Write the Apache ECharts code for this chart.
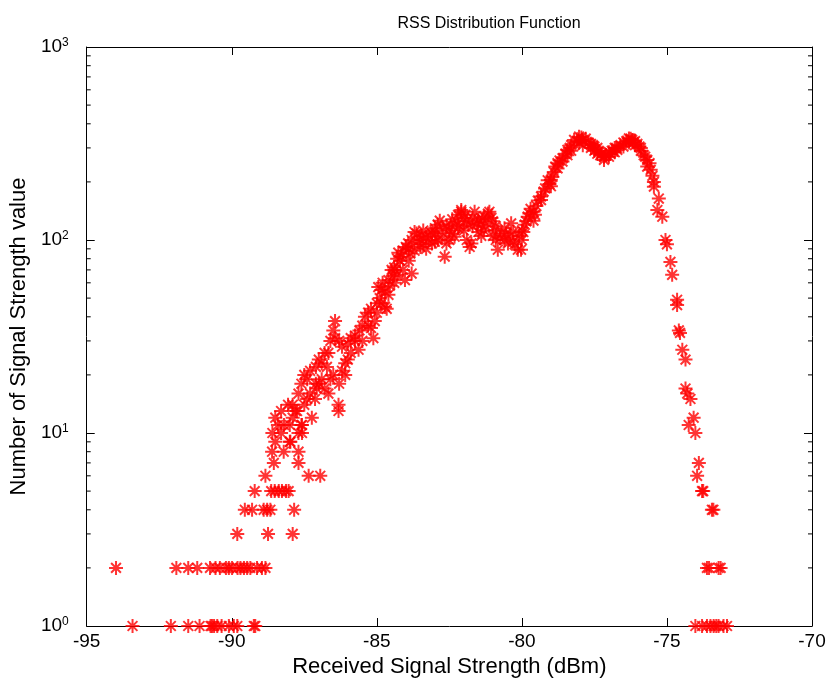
<!DOCTYPE html>
<html>
<head>
<meta charset="utf-8">
<script src="https://cdn.jsdelivr.net/npm/echarts@6/dist/echarts.min.js"></script>
<style>
html,body{margin:0;padding:0;background:#fff;}
#chart{width:832px;height:685px;}
</style>
</head>
<body>
<div id="chart"></div>
<script>
// ---- data ----
const titleText = 'RSS Distribution Function';
const xName = 'Received Signal Strength (dBm)';
const yName = 'Number of Signal Strength value';
const xTicks = [-95, -90, -85, -80, -75, -70];
const yTicks = [1, 10, 100, 1000];
const yMinorTicks = [2,3,4,5,6,7,8,9,20,30,40,50,60,70,80,90,200,300,400,500,600,700,800,900];

// low tail, left side
const leftTailX = [-93.42,-92.10,-91.50,-91.11,-90.73,-90.68,-90.61,-90.50,-90.35,-90.10,-89.93,-89.81,-89.24,-89.19,
                   -93.99,-91.91,-91.50,-91.19,-90.75,-90.56,-90.41,-90.20,-90.10,-89.99,-89.80,-89.70,-89.58,-89.47,-89.36,-89.13,-88.96,-88.84,
                   -89.81,-88.75,-87.90,
                   -89.55,-89.30,-88.90,-88.78,-88.67,-87.85,
                   -89.21,-88.64,-88.52,-88.38,-88.27,-88.13,-88.04,
                   -88.84,-87.35,-86.95,
                   -88.55,-87.70,
                   -88.61,-88.21,-87.70];
const leftTailY = [1,1,1,1,1,1,1,1,1,1,1,1,1,1,
                   2,2,2,2,2,2,2,2,2,2,2,2,2,2,2,2,2,2,
                   3,3,3,
                   4,4,4,4,4,4,
                   5,5,5,5,5,5,5,
                   6,6,6,
                   7,7,
                   8,8,8];

// main band
const bandX = [-88.60,-88.50,-88.50,-88.41,-88.30,-88.30,-88.20,-88.06,-88.00,-88.00,-87.98,-87.90,-87.90,-87.80,-87.75,-87.70,-87.70,
  -87.60,-87.60,-87.58,-87.58,-87.50,-87.50,-87.40,-87.40,-87.30,-87.30,-87.24,-87.13,-87.10,-87.10,-87.07,-87.00,-87.00,
  -86.90,-86.90,-86.80,-86.80,-86.72,-86.67,-86.67,-86.60,-86.60,-86.50,-86.50,-86.44,-86.44,-86.32,-86.32,-86.30,-86.30,
  -86.20,-86.20,-86.09,-86.09,-86.00,-86.00,-85.90,-85.90,-85.75,-85.75,-85.63,-85.60,-85.50,-85.50,-85.41,-85.30,-85.30,
  -85.20,-85.20,-85.12,-85.07,-85.00,-85.00,-84.95,-84.90,-84.84,-84.84,-84.80,-84.72,-84.72,-84.66,-84.60,-84.60,-84.55,-84.49,-84.45,-84.40,-84.40,
  -84.38,-84.30,-84.30,-84.26,-84.20,-84.15,-84.10,-84.10,-84.03,-84.00,-83.92,-83.90,-83.90,-83.85,-83.80,-83.80,-83.70,-83.70,-83.63,-83.60,
  -83.50,-83.50,-83.45,-83.40,-83.40,-83.30,-83.30,-83.23,-83.15,-83.10,-83.10,-83.00,-83.00,-82.95,-82.90,-82.90,-82.83,-82.75,-82.70,-82.66,
  -82.60,-82.60,-82.50,-82.50,-82.45,-82.40,-82.40,-82.32,-82.25,-82.20,-82.20,-82.15,-82.09,-82.09,-82.00,-82.00,-81.95,-81.90,-81.90,-81.85,-81.80,-81.74,
  -81.70,-81.70,-81.63,-81.55,-81.50,-81.50,-81.40,-81.40,-81.35,-81.30,-81.30,-81.25,-81.17,-81.12,-81.05,-81.00,-81.00,-80.95,-80.90,-80.90,-80.83,-80.75,-80.71,
  -80.60,-80.60,-80.55,-80.48,-80.40,-80.37,-80.30,-80.30,-80.25,-80.14,-80.10,-80.03,-80.00,-80.00,-79.95,-79.90,-79.85,-79.80,-79.74,-79.70,-79.60,-79.60,-79.55,-79.50,-79.45,
  -79.34,-79.34,-79.25,-79.20,-79.11,-79.05,-79.00,-79.00,-78.95,-78.90,-78.85,-78.77,-78.77,-78.70,-78.60,-78.60,-78.50,-78.43,-78.43,-78.35,-78.30,-78.30,-78.20,-78.10,
  -78.03,-78.03,-77.95,-77.90,-77.90,-77.80,-77.70,-77.62,-77.62,-77.55,-77.50,-77.50,-77.40,-77.40,-77.35,-77.30,-77.25,-77.17,-77.17,-77.10,-77.00,-77.00,-76.95,
  -76.90,-76.80,-76.80,-76.75,-76.71,-76.60,-76.50,-76.50,-76.40,-76.31,-76.31,-76.25,-76.20,-76.15,-76.10,-76.10,-76.02,-75.95,-75.90,-75.90,-75.80,-75.75,
  -75.68,-75.68,-75.60,-75.56,-75.50,-75.45,-75.45,-75.33,-75.28,-75.16,-75.05,-75.00,-74.88,-74.82,-74.65,-74.65,-74.59,-74.55,
  -74.47,-74.36,-74.36,-74.30,-74.25,-74.19,-74.08,-74.02,-73.96,-73.90,-73.79,-73.75,-73.45,-73.40];
const bandY = [10,9,12,11,13,10,11,14,11,9,9,12,14,13,13,16,10,
  18,11,10,11,20,14,19,15,21,16,12,15,22,18,17,24,18,
  23,19,26,17,22,26,16,30,19,34,20,38,31,14,13,30,18,
  28,21,23,20,29,24,31,26,30,32,27,34,36,30,40,42,36,
  44,35,31,38,47,42,57,50,55,47,60,54,45,44,62,52,58,70,65,72,60,
  70,80,66,86,78,82,88,70,62,92,96,90,78,85,100,67,110,88,108,98,
  100,92,105,112,95,104,90,100,110,108,96,115,98,108,120,100,126,105,115,82,
  118,96,112,100,120,128,108,104,125,135,115,118,140,143,130,112,135,125,100,120,92,96,
  130,118,140,122,128,110,120,105,128,132,112,118,137,140,130,125,105,112,118,100,89,102,108,
  115,100,108,96,105,122,110,98,95,89,105,89,100,112,110,120,125,132,137,145,140,126,135,150,160,
  168,161,178,185,204,195,205,190,212,225,240,250,235,258,265,255,280,293,275,300,310,290,330,325,
  343,320,340,330,310,335,320,315,300,310,305,290,280,300,290,275,280,270,260,275,285,270,280,
  290,300,285,300,293,310,320,305,325,336,320,335,330,320,310,325,315,305,290,300,275,270,
  260,240,250,231,215,189,200,143,164,132,100,95,77,66,49,46,34,33,
  27,24,17,16,11,15,12,10,6,7,5,5,4,4];

// low tail, right side
const rightTailX = [-73.62,-73.55,-73.22,-73.15,
                    -74.02,-73.79,-73.62,-73.50,-73.39,-73.30,-73.22,-73.05,-72.93];
const rightTailY = [2,2,2,2,
                    1,1,1,1,1,1,1,1,1];

// ---- chart ----
const FONT = '"Liberation Sans Narrow", "Liberation Sans", Arial, sans-serif';
const RED = '#ff0000';
const starPath = 'path://M0,-6L0,6M-6,0L6,0M-4.2,-4.2L4.2,4.2M-4.2,4.2L4.2,-4.2';

function pairs(xs, ys) { return xs.map((x, i) => [x, ys[i]]); }
const allPoints = pairs(leftTailX, leftTailY).concat(pairs(bandX, bandY), pairs(rightTailX, rightTailY));

const chart = echarts.init(document.getElementById('chart'), null, {renderer: 'canvas'});
const axisLine = {show: true, onZero: false, lineStyle: {color: '#000', width: 1}};
const tickIn = {show: true, inside: true, length: 8, lineStyle: {color: '#000', width: 1}};
const grid = {left: 84, right: 20, top: 47, bottom: 59};

chart.setOption({
  animation: false,
  backgroundColor: '#fff',
  title: {
    text: titleText, left: 484, top: 11, textAlign: 'center',
    textStyle: {fontFamily: FONT, fontSize: 16, fontWeight: 'normal', color: '#000'}
  },
  grid: grid,
  xAxis: [{
    type: 'value', min: xTicks[0], max: xTicks[xTicks.length - 1], interval: 5,
    position: 'bottom',
    name: xName, nameLocation: 'middle', nameGap: 28,
    nameTextStyle: {fontFamily: FONT, fontSize: 22, color: '#000'},
    axisLine: axisLine, axisTick: tickIn, splitLine: {show: false},
    axisLabel: {fontFamily: FONT, fontSize: 19, color: '#000', margin: 6}
  }, {
    type: 'value', min: xTicks[0], max: xTicks[xTicks.length - 1], interval: 5,
    position: 'top', axisLine: axisLine, axisTick: tickIn, splitLine: {show: false},
    axisLabel: {show: false}
  }],
  yAxis: [{
    type: 'log', logBase: 10, min: yTicks[0], max: yTicks[yTicks.length - 1],
    position: 'left',
    name: yName, nameLocation: 'middle', nameGap: 50, nameRotate: 90,
    nameTextStyle: {fontFamily: FONT, fontSize: 22, color: '#000'},
    axisLine: axisLine, axisTick: tickIn, splitLine: {show: false}, minorTick: {show: false},
    axisLabel: {
      margin: 18, color: '#000',
      formatter: function (v) { return '{b|10}{s|' + Math.round(Math.log10(v)) + '}'; },
      rich: {
        b: {fontFamily: FONT, fontSize: 19, color: '#000', lineHeight: 20},
        s: {fontFamily: FONT, fontSize: 12, color: '#000', verticalAlign: 'top', lineHeight: 20, padding: [0, 0, 14, 0]}
      }
    }
  }, {
    type: 'log', logBase: 10, min: yTicks[0], max: yTicks[yTicks.length - 1],
    position: 'right', axisLine: axisLine, axisTick: tickIn, splitLine: {show: false},
    axisLabel: {show: false}
  }],
  series: [{
    type: 'scatter',
    data: allPoints,
    symbol: starPath,
    symbolSize: 14,
    itemStyle: {color: RED, borderColor: RED, borderWidth: 2},
    clip: false,
    silent: true
  }, {
    type: 'custom',
    silent: true,
    clip: false,
    data: yMinorTicks.map(v => [xTicks[0], v]),
    renderItem: function (params, api) {
      const v = api.value(1);
      const pl = api.coord([xTicks[0], v]);
      const pr = api.coord([xTicks[xTicks.length - 1], v]);
      const st = {stroke: '#000', lineWidth: 1};
      return {type: 'group', children: [
        {type: 'line', shape: {x1: pl[0], y1: pl[1], x2: pl[0] + 4, y2: pl[1]}, style: st},
        {type: 'line', shape: {x1: pr[0], y1: pr[1], x2: pr[0] - 4, y2: pr[1]}, style: st}
      ]};
    }
  }]
});
</script>
</body>
</html>
